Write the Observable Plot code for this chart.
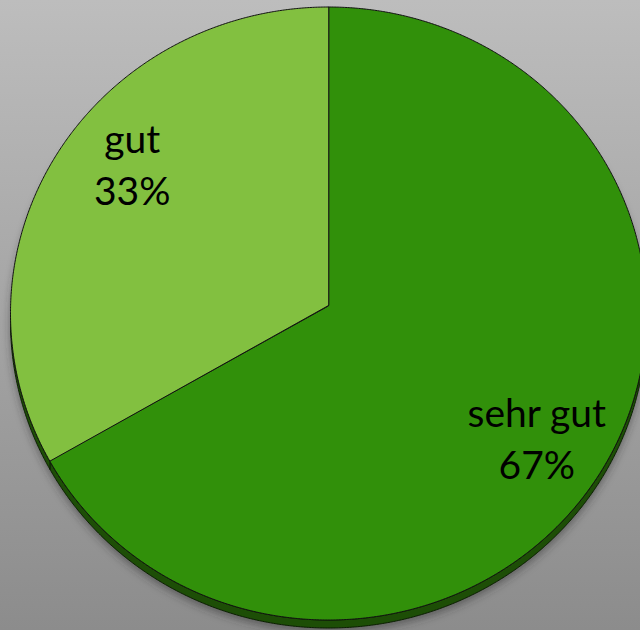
<!DOCTYPE html>
<html><head><meta charset="utf-8">
<script src="https://cdn.jsdelivr.net/npm/d3@7"></script>
<script src="https://cdn.jsdelivr.net/npm/@observablehq/plot@0.6"></script>
<style>
html,body{margin:0;padding:0;}
body{width:640px;height:630px;overflow:hidden;background:linear-gradient(#bdbdbd,#8c8c8c);}
#chart svg{display:block;}
</style></head><body><div id="chart"></div>
<script>
// ---- data ----
const categories = ["sehr gut", "gut"];
const shares = [67, 33];
const percentLabels = ["67%", "33%"];

// ---- style ----
const colors = ["#31900a", "#82c040"];
const sideColor = "#1d4e06";
const vertexY = -0.026;     // apex of the tilted pie (unit coords)
const depth = 0.026;        // thickness of the 3D rim (unit coords)
const labelR = 0.75;
const labelOffsets = [[3, 6], [9, -34]];

const pie = d3.pie().sort(null).value(d => d)(shares);
const pt = (a, r = 1) => [r * Math.sin(a), -r * Math.cos(a)];

function arcPts(a0, a1, step = 0.005) {
  const n = Math.max(2, Math.ceil(Math.abs(a1 - a0) / step));
  return d3.range(n + 1).map(j => pt(a0 + (a1 - a0) * j / n));
}

// slices
const sliceRows = [];
pie.forEach((p, i) => {
  sliceRows.push({cat: categories[i], x: 0, y: vertexY});
  arcPts(p.startAngle, p.endAngle).forEach(([x, y]) => sliceRows.push({cat: categories[i], x, y}));
});

// visible rim (lower half of the pie)
const rimRows = [];
pie.forEach((p, i) => {
  const a0 = Math.max(p.startAngle, Math.PI / 2), a1 = Math.min(p.endAngle, 3 * Math.PI / 2);
  if (a1 <= a0) return;
  const top = arcPts(a0, a1);
  top.forEach(([x, y]) => rimRows.push({cat: categories[i], x, y}));
  top.slice().reverse().forEach(([x, y]) => rimRows.push({cat: categories[i], x, y: y + depth}));
});

// shadow ellipse
const shadowRows = arcPts(0, 2 * Math.PI, 0.02).map(([x, y]) => ({x: x * 1.0, y: y + depth + 0.012}));

// labels
const labelRows = pie.map((p, i) => {
  const [x, y] = pt((p.startAngle + p.endAngle) / 2, labelR);
  return {x, y, text: categories[i] + "\n" + percentLabels[i], i};
});

const chart = Plot.plot({
  width: 640,
  height: 630,
  margin: 0,
  style: {background: "transparent"},
  x: {domain: [-1, 1], range: [10, 646], axis: null},
  y: {domain: [-1, 1], range: [6.5, 619.5], axis: null},
  color: {domain: categories, range: colors},
  marks: [
    Plot.line(shadowRows, {x: "x", y: "y", curve: "linear-closed", fill: "#303030", fillOpacity: 0.55, stroke: "none", className: "pie-shadow"}),
    Plot.line(rimRows, {x: "x", y: "y", z: "cat", curve: "linear-closed", fill: sideColor, stroke: "#0b1f02", strokeWidth: 1}),
    Plot.line(sliceRows, {x: "x", y: "y", z: "cat", fill: "cat", curve: "linear-closed", stroke: "#111", strokeWidth: 1}),
    ...labelRows.map(d => Plot.text([d], {
      x: "x", y: "y", text: "text", dx: labelOffsets[d.i][0], dy: labelOffsets[d.i][1],
      fontSize: 39, fontFamily: "Lato, 'Open Sans', sans-serif", lineHeight: 1.34,
      fill: "#000", textAnchor: "middle"
    }))
  ]
});

const svg = d3.select(chart);
svg.insert("defs", ":first-child").html(
  '<filter id="blurShadow" x="-10%" y="-10%" width="120%" height="120%"><feGaussianBlur stdDeviation="4"/></filter>'
);
svg.selectAll(".pie-shadow").attr("filter", "url(#blurShadow)");
document.getElementById("chart").appendChild(chart);
</script>
</body></html>
